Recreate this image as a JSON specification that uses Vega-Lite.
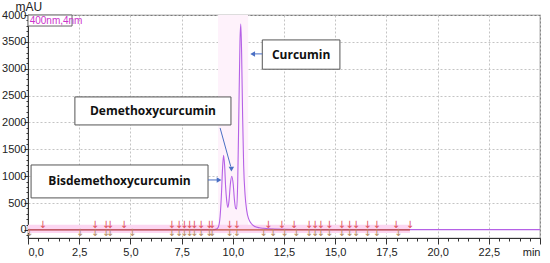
{
"$schema": "https://vega.github.io/schema/vega-lite/v6.json",
"width": 512, "height": 223,
"autosize": {"type": "none"},
"padding": {"left": 28, "top": 15, "right": 10, "bottom": 25},
"background": "white",
"config": {"view": {"stroke": "#7a7a7a", "strokeWidth": 1.2}, "font": "Liberation Sans"},
"datasets": {
"signal": [
{"t":0,"mAU":3},{"t":5,"mAU":3},{"t":9.0,"mAU":4},{"t":9.2,"mAU":15},{"t":9.3,"mAU":60},{"t":9.38,"mAU":250},{"t":9.45,"mAU":700},{"t":9.5,"mAU":1150},{"t":9.55,"mAU":1390},{"t":9.6,"mAU":1200},{"t":9.65,"mAU":800},{"t":9.7,"mAU":550},{"t":9.76,"mAU":420},{"t":9.82,"mAU":560},{"t":9.88,"mAU":850},{"t":9.95,"mAU":1000},{"t":10.02,"mAU":850},{"t":10.08,"mAU":560},{"t":10.14,"mAU":400},{"t":10.19,"mAU":390},{"t":10.24,"mAU":900},{"t":10.3,"mAU":2300},{"t":10.35,"mAU":3500},{"t":10.39,"mAU":3830},{"t":10.43,"mAU":3300},{"t":10.48,"mAU":2100},{"t":10.53,"mAU":1200},{"t":10.6,"mAU":650},{"t":10.68,"mAU":360},{"t":10.78,"mAU":200},{"t":10.9,"mAU":120},{"t":11.05,"mAU":70},{"t":11.3,"mAU":40},{"t":11.5,"mAU":30},{"t":12,"mAU":15},{"t":13,"mAU":8},{"t":18,"mAU":5},{"t":25,"mAU":5}
],
"markers": [
{"t":0.72,"mAU":93,"kind":"start"},{"t":3.27,"mAU":93,"kind":"start"},{"t":3.81,"mAU":93,"kind":"start"},{"t":4.0,"mAU":93,"kind":"start"},{"t":4.69,"mAU":93,"kind":"start"},{"t":7.01,"mAU":93,"kind":"start"},{"t":7.37,"mAU":93,"kind":"start"},{"t":7.63,"mAU":93,"kind":"start"},{"t":7.88,"mAU":93,"kind":"start"},{"t":8.12,"mAU":93,"kind":"start"},{"t":8.45,"mAU":93,"kind":"start"},{"t":8.85,"mAU":93,"kind":"start"},{"t":8.98,"mAU":93,"kind":"start"},{"t":9.83,"mAU":93,"kind":"start"},{"t":10.19,"mAU":93,"kind":"start"},{"t":11.73,"mAU":93,"kind":"start"},{"t":12.39,"mAU":93,"kind":"start"},{"t":12.99,"mAU":93,"kind":"start"},{"t":13.72,"mAU":93,"kind":"start"},{"t":14.01,"mAU":93,"kind":"start"},{"t":14.29,"mAU":93,"kind":"start"},{"t":14.71,"mAU":93,"kind":"start"},{"t":15.32,"mAU":93,"kind":"start"},{"t":15.69,"mAU":93,"kind":"start"},{"t":16.01,"mAU":93,"kind":"start"},{"t":16.58,"mAU":93,"kind":"start"},{"t":17.02,"mAU":93,"kind":"start"},{"t":17.97,"mAU":93,"kind":"start"},{"t":18.65,"mAU":93,"kind":"start"},
{"t":0.06,"mAU":-62,"kind":"end"},{"t":2.54,"mAU":-62,"kind":"end"},{"t":3.27,"mAU":-62,"kind":"end"},{"t":3.81,"mAU":-62,"kind":"end"},{"t":4.0,"mAU":-62,"kind":"end"},{"t":5.09,"mAU":-62,"kind":"end"},{"t":7.01,"mAU":-62,"kind":"end"},{"t":7.37,"mAU":-62,"kind":"end"},{"t":7.63,"mAU":-62,"kind":"end"},{"t":7.88,"mAU":-62,"kind":"end"},{"t":8.12,"mAU":-62,"kind":"end"},{"t":8.45,"mAU":-62,"kind":"end"},{"t":8.85,"mAU":-62,"kind":"end"},{"t":8.98,"mAU":-62,"kind":"end"},{"t":9.83,"mAU":-62,"kind":"end"},{"t":10.19,"mAU":-62,"kind":"end"},{"t":11.49,"mAU":-62,"kind":"end"},{"t":11.96,"mAU":-62,"kind":"end"},{"t":12.52,"mAU":-62,"kind":"end"},{"t":13.09,"mAU":-62,"kind":"end"},{"t":13.72,"mAU":-62,"kind":"end"},{"t":14.01,"mAU":-62,"kind":"end"},{"t":14.29,"mAU":-62,"kind":"end"},{"t":14.71,"mAU":-62,"kind":"end"},{"t":15.32,"mAU":-62,"kind":"end"},{"t":15.69,"mAU":-62,"kind":"end"},{"t":16.01,"mAU":-62,"kind":"end"},{"t":16.58,"mAU":-62,"kind":"end"},{"t":17.02,"mAU":-62,"kind":"end"},{"t":18.08,"mAU":-62,"kind":"end"}
],
"boxes": [
{"label":"Curcumin","t":11.44,"t2":15.23,"mAU":3536,"mAU2":2991},
{"label":"Demethoxycurcumin","t":2.29,"t2":9.91,"mAU":2475,"mAU2":1954},
{"label":"Bisdemethoxycurcumin","t":0.15,"t2":8.79,"mAU":1209,"mAU2":596}
],
"arrows": [
{"label":"Curcumin","t":11.44,"mAU":3276,"t2":11.0,"mAU2":3276},
{"label":"Demethoxycurcumin","t":9.38,"mAU":1898,"t2":9.9,"mAU2":1180},
{"label":"Bisdemethoxycurcumin","t":8.79,"mAU":930,"t2":9.3,"mAU2":930}
],
"heads": [
{"label":"Curcumin","t":10.97,"mAU":3276,"dir":"triangle-left"},
{"label":"Demethoxycurcumin","t":9.93,"mAU":1130,"dir":"triangle-down"},
{"label":"Bisdemethoxycurcumin","t":9.33,"mAU":930,"dir":"triangle-right"}
]
},
"encoding": {
"x": {"field":"t","type":"quantitative","scale":{"domain":[0,25],"nice":false,"zero":false},
"axis": {"title":null,
"values":[0,0.5,1,1.5,2,2.5,3,3.5,4,4.5,5,5.5,6,6.5,7,7.5,8,8.5,9,9.5,10,10.5,11,11.5,12,12.5,13,13.5,14,14.5,15,15.5,16,16.5,17,17.5,18,18.5,19,19.5,20,20.5,21,21.5,22,22.5,23,23.5,24,24.5,25],
"labelExpr":"datum.value == 25 ? 'min' : (datum.value % 2.5 == 0 ? replace(format(datum.value, '.1f'), '.', ',') : '')",
"labelOverlap":false,"labelFontSize":11,"labelColor":"#222","labelPadding":2,
"tickSize":{"condition":{"test":"datum.value % 2.5 == 0","value":6},"value":3},
"tickColor":"#333","domainColor":"#333",
"grid":true,"gridDash":[2,2],"gridColor":"#c4c4c4",
"gridOpacity":{"condition":{"test":"datum.value % 2.5 == 0","value":1},"value":0}}},
"y": {"field":"mAU","type":"quantitative","scale":{"domain":[-150,4000],"nice":false,"zero":false},
"axis": {"title":"mAU","titleAngle":0,"titleAlign":"left","titleBaseline":"bottom","titleX":-13,"titleY":-2,"titleFontSize":12,"titleFontWeight":"normal","titleColor":"#222",
"values":[-100,0,100,200,300,400,500,600,700,800,900,1000,1100,1200,1300,1400,1500,1600,1700,1800,1900,2000,2100,2200,2300,2400,2500,2600,2700,2800,2900,3000,3100,3200,3300,3400,3500,3600,3700,3800,3900,4000],
"labelExpr":"datum.value % 500 == 0 ? format(datum.value, 'd') : ''",
"labelOverlap":false,"labelFontSize":11,"labelColor":"#222","labelPadding":-2,
"tickSize":{"condition":{"test":"datum.value % 500 == 0","value":4},"value":2},
"tickColor":"#333","domainColor":"#333",
"grid":true,"gridDash":[2,2],"gridColor":"#c4c4c4",
"gridOpacity":{"condition":{"test":"datum.value % 500 == 0 && datum.value > 0","value":1},"value":0}}}
},
"layer": [
{
"data": {"values": [{"t":9.28,"t2":10.75,"mAU":-60,"mAU2":4000}]},
"mark": {"type":"rect","color":"#fef2fb"},
"encoding": {"x2": {"field":"t2"}, "y2": {"field":"mAU2"}}
},
{
"data": {"values": [{"t":0,"t2":18.65,"mAU":-55,"mAU2":95}]},
"mark": {"type":"rect","color":"#fcd6f1"},
"encoding": {"x2": {"field":"t2"}, "y2": {"field":"mAU2"}}
},
{
"data": {"name":"signal"},
"mark": {"type":"line","color":"#b561e6","strokeWidth":1.1,"interpolate":"monotone"},
"encoding": {}
},
{
"data": {"values": [{"t":0,"t2":18.65,"mAU":0}]},
"mark": {"type":"rule","color":"#c0503c","strokeWidth":1.3},
"encoding": {"x2": {"field":"t2"}}
},
{
"data": {"name":"markers"},
"mark": {"type":"text","text":"↓","fontSize":10,"font":"DejaVu Sans","baseline":"middle"},
"encoding": {
"color": {"field":"kind","type":"nominal","scale":{"domain":["start","end"],"range":["#e0505a","#b58a62"]},"legend":null}
}
},
{
"data": {"name":"boxes"},
"mark": {"type":"rect","fill":"white","stroke":"#555555","strokeWidth":1},
"encoding": {"x2": {"field":"t2"}, "y2": {"field":"mAU2"}}
},
{
"data": {"name":"boxes"},
"transform": [{"calculate":"(datum.t + datum.t2) / 2","as":"t"},{"calculate":"(datum.mAU + datum.mAU2) / 2","as":"mAU"}],
"mark": {"type":"text","font":"Open Sans","fontWeight":"bold","fontSize":12,"color":"#111","align":"center","baseline":"middle"},
"encoding": {"text": {"field":"label"}}
},
{
"data": {"name":"arrows"},
"mark": {"type":"rule","color":"#4a6fc4","strokeWidth":1},
"encoding": {"x2": {"field":"t2"}, "y2": {"field":"mAU2"}}
},
{
"data": {"name":"heads"},
"mark": {"type":"point","filled":true,"color":"#4a6fc4","size":30,"opacity":1},
"encoding": {
"shape": {"field":"dir","type":"nominal","scale":{"domain":["triangle-left","triangle-down","triangle-right"],"range":["triangle-left","triangle-down","triangle-right"]},"legend":null}
}
},
{
"data": {"values": [{"t":0,"t2":2.15,"mAU":4000,"mAU2":3795}]},
"mark": {"type":"rect","fill":"white","stroke":"#666","strokeWidth":1},
"encoding": {"x2": {"field":"t2"}, "y2": {"field":"mAU2"}}
},
{
"data": {"values": [{"t":0.08,"mAU":3895,"label":"400nm,4nm"}]},
"mark": {"type":"text","color":"#cc33cc","fontSize":10,"align":"left","baseline":"middle"},
"encoding": {"text": {"field":"label"}}
}
]
}
